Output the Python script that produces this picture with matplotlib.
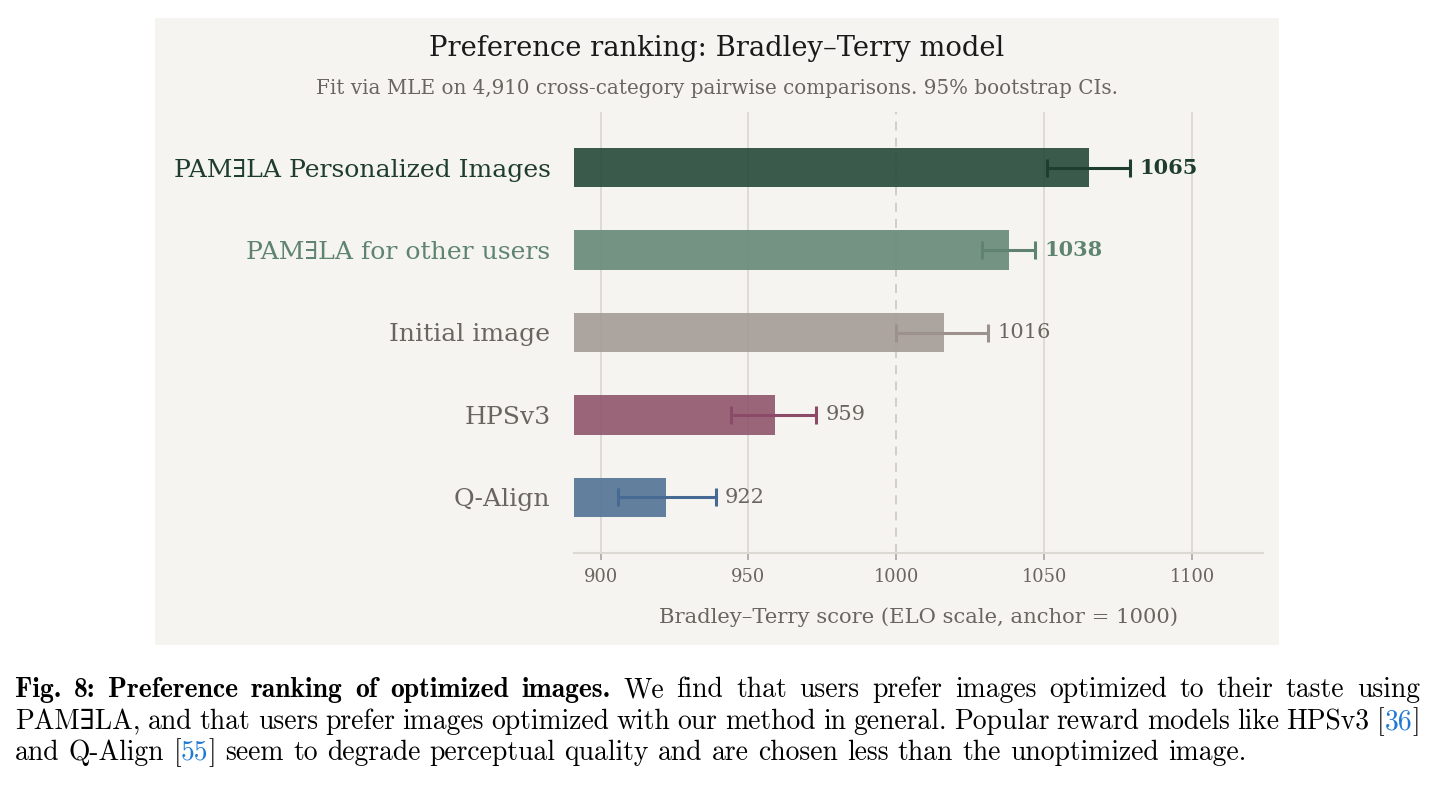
import numpy as np
import matplotlib
matplotlib.use("Agg")
import matplotlib.pyplot as plt
from matplotlib.patches import Rectangle

plt.rcParams['font.family'] = ['DejaVu Serif', 'DejaVu Sans']

# data
labels = ["PAM\u2203LA Personalized Images", "PAM\u2203LA for other users",
          "Initial image", "HPSv3", "Q-Align"]
scores = [1065, 1038, 1016, 959, 922]
ci_low = [1051, 1029, 1000, 944, 906]
ci_high = [1079, 1047, 1031, 973, 939]
xticks = [900, 950, 1000, 1050, 1100]

bar_colors = ["#25493a", "#678976", "#a49c96", "#90546c", "#527395"]
err_colors = ["#1e3f30", "#5f8370", "#9c918d", "#8a4a68", "#466a93"]
label_colors = ["#1f3d2f", "#5e8470", "#6b6560", "#6b6560", "#6b6560"]
bold = [True, True, False, False, False]

panel_bg = "#f5f4f0"
grey = "#6b6560"

W, H = 1435, 785
fig = plt.figure(figsize=(W / 100, H / 100), dpi=100, facecolor="white")

# panel background behind the chart
fig.add_artist(Rectangle((155 / W, 1 - 645 / H), 1124 / W, 627 / H,
                         transform=fig.transFigure, facecolor=panel_bg,
                         edgecolor="none", zorder=-1))

ax = fig.add_axes([574 / W, 1 - 553 / H, 689 / W, 441 / H])
ax.patch.set_alpha(0)

y = np.arange(len(labels))
ax.barh(y, scores, height=0.48, color=bar_colors, alpha=0.9, zorder=2)
for i in range(len(labels)):
    ax.errorbar(scores[i], y[i], xerr=[[scores[i] - ci_low[i]], [ci_high[i] - scores[i]]],
                fmt="none", ecolor=err_colors[i], elinewidth=2.2, capsize=6.5,
                capthick=2.2, zorder=3)
    ax.annotate(str(scores[i]), xy=(ci_high[i], y[i]), xytext=(6.5, 0),
                textcoords="offset points", va="center", ha="left",
                fontsize=15, color=label_colors[i] if bold[i] else grey,
                fontweight="bold" if bold[i] else "normal")

ax.set_xlim(891, 1124)
ax.set_ylim(4.675, -0.675)
ax.set_xticks(xticks)
ax.set_yticks(y)
ax.set_yticklabels(labels, fontsize=18.1)
for lab, c in zip(ax.get_yticklabels(), label_colors):
    lab.set_color(c)
ax.tick_params(axis="y", length=0, pad=17)
ax.tick_params(axis="x", length=5, width=1.2, color="#a9a49f", labelsize=12.9,
               labelcolor=grey, pad=6)

ax.grid(axis="x", color="#dcd9d3", linewidth=1.3, zorder=0)
ax.set_axisbelow(True)
for t, gl in zip(xticks, ax.get_xgridlines()):
    if t == 1000:
        gl.set_linestyle((0, (5, 4)))
        gl.set_color("#cfccc6")

for s in ["top", "right", "left"]:
    ax.spines[s].set_visible(False)
ax.spines["bottom"].set_color("#dcd9d3")
ax.spines["bottom"].set_linewidth(1.5)

ax.set_xlabel("Bradley\u2013Terry score (ELO scale, anchor = 1000)", fontsize=15.2,
              color=grey, labelpad=15)

fig.text(717 / W, 1 - 56 / H, "Preference ranking: Bradley\u2013Terry model",
         ha="center", va="baseline", fontsize=19.7, color="#1a1a1a")
fig.text(717 / W, 1 - 94 / H,
         "Fit via MLE on 4,910 cross-category pairwise comparisons. 95% bootstrap CIs.",
         ha="center", va="baseline", fontsize=14.3, color=grey)

# caption below the panel, set word by word so lines 1 and 2 are justified
cfont = ['cmr10', 'DejaVu Serif']
bfont = ['cmb10', 'DejaVu Serif']
csize = 19.9
blue = "#1f78d2"
renderer = fig.canvas.get_renderer()


def words(s, fam, color="black"):
    return [[(w, fam, color)] for w in s.split()]


def place_line(line, y_px, x0=15, x1=1420, justify=True):
    objs = []
    for word in line:
        objs.append([fig.text(0, 1 - y_px / H, s, family=fam, color=col,
                              fontsize=csize, ha="left", va="baseline")
                     for s, fam, col in word])
    widths = [[p.get_window_extent(renderer).width for p in parts] for parts in objs]
    total = sum(sum(ws) for ws in widths)
    if justify:
        gap = (x1 - x0 - total) / (len(objs) - 1)
    else:
        gap = csize * 100 / 72 * 0.333
    x = x0
    for parts, ws in zip(objs, widths):
        for p, wd in zip(parts, ws):
            p.set_x(x / W)
            x += wd
        x += gap


line1 = (words("Fig. 8: Preference ranking of optimized images.", bfont)
         + words("We find that users prefer images optimized to their taste using", cfont))
line2 = (words("PAM\u2203LA, and that users prefer images optimized with our method in "
               "general. Popular reward models like HPSv3", cfont)
         + [[("[", cfont, "black"), ("36", cfont, blue), ("]", cfont, "black")]])
line3 = (words("and Q-Align", cfont)
         + [[("[", cfont, "black"), ("55", cfont, blue), ("]", cfont, "black")]]
         + words("seem to degrade perceptual quality and are chosen less than the "
                 "unoptimized image.", cfont))

place_line(line1, 697)
place_line(line2, 729)
place_line(line3, 760, justify=False)

fig.savefig("out.png", dpi=100, facecolor="white")
